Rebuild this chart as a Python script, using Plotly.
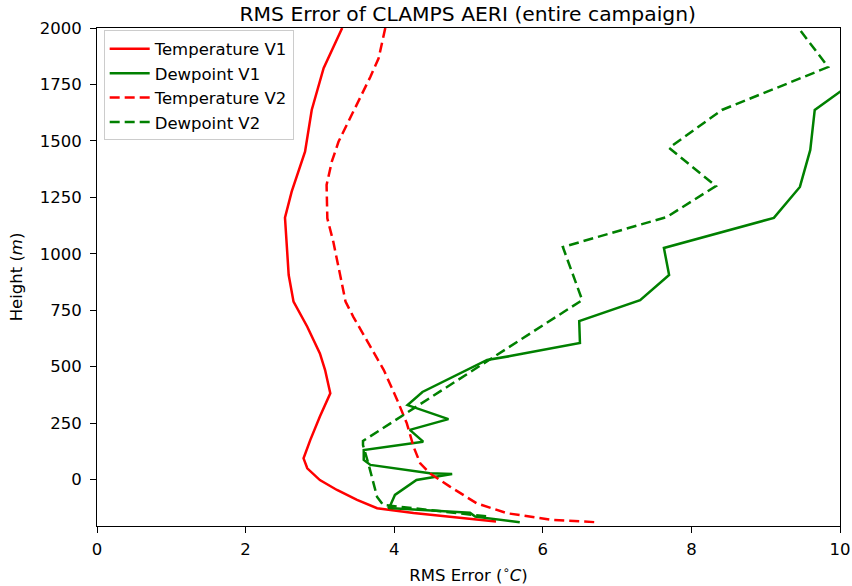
import plotly.graph_objects as go

# RMS error profiles (deg C) against height (m)
temp_v1_height = [2000, 1822, 1637, 1452, 1275, 1160, 906, 788, 677, 559, 485, 382,
                  279, 175, 94, 50, -2, -46, -90, -127, -148, -175, -186]
temp_v1_rms = [3.30, 3.05, 2.89, 2.80, 2.62, 2.53, 2.58, 2.645, 2.83, 3.00, 3.07, 3.14,
               3.00, 2.87, 2.78, 2.83, 3.00, 3.23, 3.50, 3.77, 4.26, 5.06, 5.37]

dew_v1_height = [1800, 1637, 1460, 1296, 1159, 1026, 906, 795, 702, 605, 547, 530,
                 388, 330, 268, 220, 168, 131, 87, 65, 28, 25, -2, -68, -112, -126,
                 -147, -164, -189]
dew_v1_rms = [10.35, 9.66, 9.60, 9.46, 9.11, 7.63, 7.70, 7.31, 6.49, 6.50, 5.56, 5.25,
              4.38, 4.18, 4.73, 4.21, 4.39, 3.59, 3.59, 3.68, 4.48, 4.78, 4.30, 4.01,
              3.95, 3.92, 5.02, 5.09, 5.69]

temp_v2_height = [2000, 1866, 1784, 1689, 1585, 1496, 1408, 1305, 1157, 1054, 862, 788,
                  721, 589, 485, 353, 249, 146, 72, 28, -31, -105, -149, -179, -189]
temp_v2_rms = [3.88, 3.79, 3.68, 3.54, 3.385, 3.25, 3.16, 3.09, 3.10, 3.18, 3.30, 3.345,
               3.45, 3.68, 3.86, 4.04, 4.17, 4.26, 4.35, 4.48, 4.75, 5.11, 5.52, 6.14, 6.73]

dew_v2_height = [2040, 1991, 1827, 1637, 1469, 1300, 1163, 1030, 795, 171, 153, 74,
                 -77, -112, -163]
dew_v2_rms = [9.35, 9.46, 9.84, 8.41, 7.70, 8.33, 7.67, 6.27, 6.53, 3.58, 3.58, 3.65,
              3.77, 3.85, 5.25]

FONT = "DejaVu Sans"
RED = "#ff0000"
GREEN = "#008000"

fig = go.Figure()

series = [
    ("Temperature V1", temp_v1_rms, temp_v1_height, RED, "solid"),
    ("Dewpoint V1", dew_v1_rms, dew_v1_height, GREEN, "solid"),
    ("Temperature V2", temp_v2_rms, temp_v2_height, RED, "10px,5px"),
    ("Dewpoint V2", dew_v2_rms, dew_v2_height, GREEN, "10px,5px"),
]
for name, xs, ys, color, dash in series:
    fig.add_trace(go.Scatter(
        x=xs, y=ys, mode="lines", name=name,
        line=dict(color=color, width=2.5, dash=dash),
    ))

axis_common = dict(
    automargin=False,
    showgrid=False, zeroline=False, showline=True, mirror=True,
    linecolor="#000000", linewidth=1,
    ticks="outside", ticklen=6, tickwidth=1, tickcolor="#000000",
    tickfont=dict(family=FONT, size=16.5, color="#000000"),
)

fig.update_xaxes(
    range=[0, 10], tickvals=[0, 2, 4, 6, 8, 10], ticklabelstandoff=2,
    title=dict(text="RMS Error (<sup>∘</sup><i>C</i>)",
               font=dict(family=FONT, size=16.5, color="#000000"), standoff=11),
    **axis_common,
)
fig.update_yaxes(
    range=[-205.5, 2000], tickvals=[0, 250, 500, 750, 1000, 1250, 1500, 1750, 2000],
    ticklabelstandoff=5,
    title=dict(text="Height (<i>m</i>)",
               font=dict(family=FONT, size=16.5, color="#000000"), standoff=12),
    **axis_common,
)

fig.update_layout(
    width=852, height=586,
    margin=dict(l=97, r=12, t=28, b=60),
    plot_bgcolor="#ffffff", paper_bgcolor="#ffffff",
    title=dict(text="RMS Error of CLAMPS AERI (entire campaign)",
               font=dict(family=FONT, size=20.3, color="#000000"),
               x=0.549, xanchor="center", y=1 - 14 / 586, yanchor="middle"),
    legend=dict(
        x=0.009, y=0.995, xanchor="left", yanchor="top",
        bgcolor="rgba(255,255,255,0.8)", bordercolor="#cccccc", borderwidth=1,
        font=dict(family=FONT, size=16.5, color="#000000"),
        itemwidth=40,
    ),
    showlegend=True,
)

fig.write_html("out.html")
